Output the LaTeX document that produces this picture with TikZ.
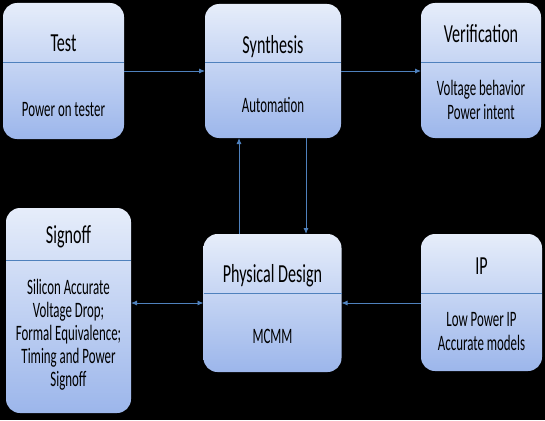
\documentclass[tikz,border=0pt]{standalone}
\usepackage{fontspec}
\setmainfont{Carlito}
\usetikzlibrary{arrows.meta}
\definecolor{boxtop}{RGB}{230,237,250}
\definecolor{boxbot}{RGB}{156,182,235}
\definecolor{lineblue}{RGB}{79,129,189}
\newcommand{\sqt}[1]{\scalebox{0.62}[1]{#1}}
\newcommand{\sqb}[1]{\scalebox{0.586}[1]{#1}}
\newcommand{\txtlines}[1]{\begin{tabular}[t]{@{}c@{}}#1\end{tabular}}
\tikzset{
  box/.style={rounded corners=14pt, top color=boxtop, bottom color=boxbot, draw=none, inner sep=0pt, outer sep=0pt},
  divider/.style={draw=lineblue, line width=0.9pt},
  title/.style={anchor=base, inner sep=0pt, text=black, font=\fontsize{26}{30}\selectfont},
  body/.style={anchor=base, inner sep=0pt, text=black, font=\fontsize{22}{23}\selectfont},
  bodywide/.style={anchor=base, inner sep=0pt, text=black, font=\fontsize{22}{24.5}\selectfont},
  arr/.style={draw=lineblue, line width=0.9pt, -{Latex[length=6pt,width=5pt]}},
  darr/.style={draw=lineblue, line width=0.9pt, {Latex[length=6pt,width=5pt]}-{Latex[length=6pt,width=5pt]}}
}
\begin{document}
\begin{tikzpicture}[x=1pt,y=-1pt]
\fill[black] (0,0) rectangle (545,420);
\useasboundingbox (0,0) rectangle (545,420);
% boxes
\node[box, minimum width=121pt, minimum height=136pt] (test) at (63.5,71) {};
\node[box, minimum width=136pt, minimum height=134pt] (synth) at (273,71) {};
\node[box, minimum width=120pt, minimum height=135pt] (verif) at (481,70.5) {};
\node[box, minimum width=125pt, minimum height=205pt] (signoff) at (68.5,310.5) {};
\node[box, minimum width=138pt, minimum height=138pt] (pd) at (272.5,303) {};
\node[box, minimum width=121pt, minimum height=137pt] (ip) at (481.5,302.5) {};
% dividers
\draw[divider] (test.west |- 0,62) -- (test.east |- 0,62);
\draw[divider] (synth.west |- 0,62) -- (synth.east |- 0,62);
\draw[divider] (verif.west |- 0,62) -- (verif.east |- 0,62);
\draw[divider] (signoff.west |- 0,260) -- (signoff.east |- 0,260);
\draw[divider] (pd.west |- 0,293) -- (pd.east |- 0,293);
\draw[divider] (ip.west |- 0,293) -- (ip.east |- 0,293);
% texts
\node[title] (testT) at (63.5,52) {\sqt{Test}};
\node[body] (testB) at (63.5,116) {\sqb{Power on tester}};
\node[title] (synthT) at (273,53) {\sqt{Synthesis}};
\node[body] (synthB) at (273,112) {\sqb{Automation}};
\node[title] (verifT) at (481,43) {\sqt{Verification}};
\node[bodywide] (verifB) at (481,95) {\sqb{\txtlines{Voltage behavior\\Power intent}}};
\node[title] (signoffT) at (68.5,243) {\sqt{Signoff}};
\node[body] (signoffB) at (68.5,294) {\sqb{\txtlines{Silicon Accurate\\Voltage Drop;\\Formal Equivalence;\\Timing and Power\\Signoff}}};
\node[title] (pdT) at (272.5,282) {\sqt{Physical Design}};
\node[body] (pdB) at (272.5,343) {\sqb{MCMM}};
\node[title] (ipT) at (481.5,274) {\sqt{IP}};
\node[bodywide] (ipB) at (481.5,326) {\sqb{\txtlines{Low Power IP\\Accurate models}}};
% connectors
\draw[arr] (test.east |- 0,71) -- (synth.west |- 0,71);
\draw[arr] (synth.east |- 0,71) -- (verif.west |- 0,71);
\draw[arr] (pd.north -| 239,0) -- (synth.south -| 239,0);
\draw[arr] (synth.south -| 306,0) -- (pd.north -| 306,0);
\draw[darr] (signoff.east |- 0,303) -- (pd.west |- 0,303);
\draw[arr] (ip.west |- 0,303) -- (pd.east |- 0,303);
\end{tikzpicture}
\end{document}
